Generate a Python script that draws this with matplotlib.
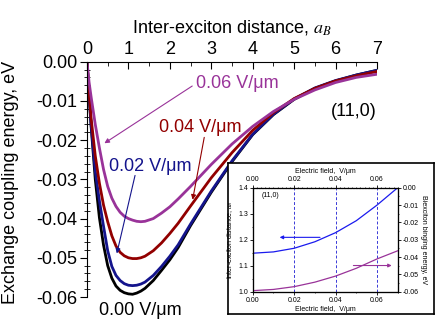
import matplotlib
matplotlib.use("Agg")
import matplotlib.pyplot as plt
from matplotlib.ticker import MultipleLocator

plt.rcParams['font.family'] = ['Liberation Sans', 'DejaVu Sans']
plt.rcParams['mathtext.fontset'] = 'stix'

# main panel: exchange coupling energy vs inter-exciton distance
distance = [0.0, 0.05, 0.1, 0.2, 0.3, 0.4, 0.5, 0.6, 0.7, 0.8, 0.9, 1.0, 1.1, 1.2, 1.3,
            1.4, 1.6, 1.8, 2.0, 2.2, 2.5, 3.0, 3.5, 4.0, 4.5, 5.0, 5.5, 6.0, 6.5, 7.0]
e_000 = [0.0, -0.0085, -0.0165, -0.0300, -0.0398, -0.0468, -0.0520, -0.0552, -0.0572, -0.0583,
         -0.0589, -0.0592, -0.0593, -0.0590, -0.0585, -0.0578, -0.0558, -0.0532, -0.0505, -0.0474,
         -0.0418, -0.0333, -0.0255, -0.0186, -0.0135, -0.0096, -0.0068, -0.0049, -0.0034, -0.0022]
e_002 = [0.0, -0.0083, -0.0160, -0.0280, -0.0355, -0.0420, -0.0482, -0.0522, -0.0545, -0.0558,
         -0.0566, -0.0570, -0.0571, -0.0570, -0.0567, -0.0562, -0.0545, -0.0522, -0.0496, -0.0467,
         -0.0414, -0.0330, -0.0253, -0.0185, -0.0134, -0.0095, -0.0067, -0.0048, -0.0034, -0.0022]
e_004 = [0.0, -0.0078, -0.0145, -0.0240, -0.0310, -0.0366, -0.0408, -0.0444, -0.0470, -0.0486,
         -0.0495, -0.0500, -0.0502, -0.0502, -0.0500, -0.0496, -0.0482, -0.0462, -0.0438, -0.0412,
         -0.0368, -0.0296, -0.0232, -0.0175, -0.0130, -0.0094, -0.0068, -0.0049, -0.0036, -0.0025]
e_006 = [0.0, -0.0052, -0.0090, -0.0160, -0.0220, -0.0275, -0.0318, -0.0348, -0.0369, -0.0384,
         -0.0394, -0.0400, -0.0404, -0.0407, -0.0408, -0.0407, -0.0400, -0.0386, -0.0370, -0.0350,
         -0.0318, -0.0262, -0.0210, -0.0165, -0.0127, -0.0096, -0.0072, -0.0053, -0.0040, -0.0032]

# inset: values at the minimum vs electric field
field = [0.0, 0.01, 0.02, 0.03, 0.04, 0.05, 0.06, 0.07]
min_distance = [1.148, 1.153, 1.167, 1.192, 1.227, 1.273, 1.333, 1.400]
bind_energy = [-0.0594, -0.0587, -0.0571, -0.0545, -0.0510, -0.0465, -0.0411, -0.0364]

c_black = "black"
c_navy = "#14148c"
c_red = "#920000"
c_purple = "#993399"

fig = plt.figure(figsize=(4.36, 3.28), dpi=100)
ax = fig.add_axes([0.1995, 0.0945, 0.6652, 0.7174])

ax.plot(distance, e_000, color=c_black, lw=2.0)
ax.plot(distance, e_002, color=c_navy, lw=2.0)
ax.plot(distance, e_004, color=c_red, lw=2.0)
ax.plot(distance, e_006, color=c_purple, lw=2.0)

ax.set_xlim(0, 7)
ax.set_ylim(-0.06, 0)
ax.xaxis.tick_top()
ax.xaxis.set_label_position('top')
ax.spines['right'].set_visible(False)
ax.spines['bottom'].set_visible(False)
ax.xaxis.set_major_locator(MultipleLocator(1))
ax.xaxis.set_minor_locator(MultipleLocator(0.5))
ax.yaxis.set_major_locator(MultipleLocator(0.01))
ax.yaxis.set_minor_locator(MultipleLocator(0.002))
ax.yaxis.set_major_formatter(matplotlib.ticker.FormatStrFormatter('%.2f'))
ax.tick_params(axis='x', which='major', direction='in', length=5, labelsize=13, pad=3)
ax.tick_params(axis='x', which='minor', direction='in', length=3)
ax.tick_params(axis='y', which='major', direction='out', length=5, labelsize=13, pad=2)
ax.tick_params(axis='y', which='minor', direction='inout', length=4)
ax.set_xlabel("Inter-exciton distance, $a_B$", fontsize=13, labelpad=6)
ax.set_ylabel("Exchange coupling energy, eV", fontsize=13)
ax.yaxis.set_label_coords(-0.235, 0.487)

arrow = dict(arrowstyle='-|>', lw=0.8, mutation_scale=7, shrinkA=0, shrinkB=0)
ax.annotate("", xy=(0.42, -0.0208), xytext=(2.54, -0.0062),
            arrowprops=dict(arrow, color=c_purple))
ax.text(3.62, -0.0056, "0.06 V/\u03bcm", color=c_purple, fontsize=13, ha='center', va='center')
ax.annotate("", xy=(2.55, -0.0352), xytext=(2.83, -0.0193),
            arrowprops=dict(arrow, color=c_red))
ax.text(2.73, -0.0168, "0.04 V/\u03bcm", color=c_red, fontsize=13, ha='center', va='center')
ax.annotate("", xy=(0.72, -0.0489), xytext=(1.16, -0.0290),
            arrowprops=dict(arrow, color=c_navy))
ax.text(1.53, -0.0268, "0.02 V/\u03bcm", color=c_navy, fontsize=13, ha='center', va='center')
ax.text(1.28, -0.0635, "0.00 V/\u03bcm", color=c_black, fontsize=13, ha='center', va='center',
        clip_on=False)
ax.text(6.43, -0.0126, "(11,0)", color=c_black, fontsize=13, ha='center', va='center')

# inset frame
box = fig.add_axes([0.523, 0.0427, 0.4725, 0.4604])
box.set_xticks([])
box.set_yticks([])
for s in box.spines.values():
    s.set_linewidth(1.2)

ins = fig.add_axes([0.5796, 0.1107, 0.3326, 0.3171])
ins.patch.set_alpha(0)
ins.plot(field, min_distance, color="#1a1aee", lw=0.9)
ins.set_xlim(0, 0.07)
ins.set_ylim(1.0, 1.4)
for fx in [0.02, 0.04, 0.06]:
    ins.axvline(fx, color="#3a3ad8", lw=0.7, ls=(0, (3, 2)))
ins.spines['top'].set_linestyle(':')
ins.xaxis.set_major_locator(MultipleLocator(0.02))
ins.xaxis.set_minor_locator(MultipleLocator(0.01))
ins.yaxis.set_major_locator(MultipleLocator(0.1))
ins.yaxis.set_minor_locator(MultipleLocator(0.05))
ins.xaxis.set_major_formatter(matplotlib.ticker.FormatStrFormatter('%.2f'))
ins.yaxis.set_major_formatter(matplotlib.ticker.FormatStrFormatter('%.1f'))
ins.tick_params(which='major', length=2, width=0.6, labelsize=5, pad=1.5)
ins.tick_params(which='minor', length=1, width=0.5)
ins.set_xlabel("Electric field,  V/\u03bcm", fontsize=5, labelpad=1.5)
ins.set_ylabel("Inter-exciton distance, $a_B$", fontsize=5, labelpad=2)
ins.text(0.0085, 1.37, "(11,0)", fontsize=5, ha='center', va='center')
ins.annotate("", xy=(0.0130, 1.209), xytext=(0.0325, 1.209),
             arrowprops=dict(arrowstyle='-|>', color="#1a1aee", lw=0.8, mutation_scale=5,
                             shrinkA=0, shrinkB=0))

top = ins.twiny()
top.set_xlim(0, 0.07)
top.xaxis.set_major_locator(MultipleLocator(0.02))
top.xaxis.set_minor_locator(MultipleLocator(0.002))
top.xaxis.set_major_formatter(matplotlib.ticker.FormatStrFormatter('%.2f'))
top.tick_params(which='major', length=2, width=0.6, labelsize=5, pad=1.5)
top.tick_params(which='minor', length=1, width=0.5)
top.set_xlabel("Electric field,  V/\u03bcm", fontsize=5, labelpad=2)

rgt = ins.twinx()
rgt.plot(field, bind_energy, color=c_purple, lw=0.9)
rgt.set_ylim(-0.06, 0)
rgt.yaxis.set_major_locator(MultipleLocator(0.01))
rgt.yaxis.set_minor_locator(MultipleLocator(0.005))
rgt.yaxis.set_major_formatter(matplotlib.ticker.FormatStrFormatter('%.2f'))
rgt.tick_params(which='major', length=2, width=0.6, labelsize=5, pad=1.5)
rgt.tick_params(which='minor', length=1, width=0.5)
rgt.set_ylabel("Biexciton binging energy, eV", fontsize=5, rotation=270, labelpad=6)
rgt.annotate("", xy=(0.0671, -0.0449), xytext=(0.0486, -0.0449),
             arrowprops=dict(arrowstyle='-|>', color=c_purple, lw=0.8, mutation_scale=5,
                             shrinkA=0, shrinkB=0))

fig.savefig("out.png", dpi=100)
